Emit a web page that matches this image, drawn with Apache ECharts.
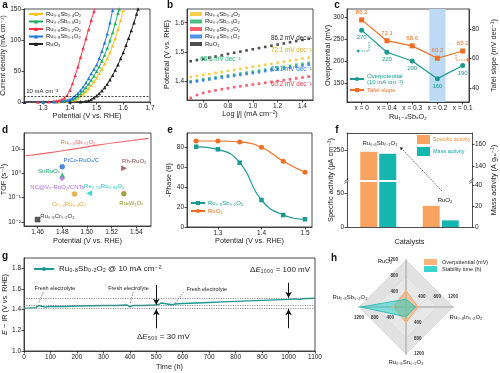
<!DOCTYPE html>
<html><head><meta charset="utf-8">
<script src="https://cdn.jsdelivr.net/npm/echarts@6/dist/echarts.min.js"></script>
<style>html,body{margin:0;padding:0;background:#fff}#c{width:500px;height:373px}</style>
</head><body><div id="c"></div><script>
const FONT = 'Liberation Sans, Arial, Helvetica, DejaVu Sans, sans-serif';
// ---------- panel a : LSV ----------
const lsvNames = ['Ru₀.₆Sb₀.₄O₂','Ru₀.₇Sb₀.₃O₂','Ru₀.₈Sb₀.₂O₂','Ru₀.₉Sb₀.₁O₂','RuO₂'];
const lsvColors = ['#f7c21e','#1faf63','#f7344a','#2378e0','#222222'];
const lsvSb04 = [[1.23,0],[1.30,0.1],[1.36,0.4],[1.39,1.5],[1.41,2.8],[1.42,4],[1.43,6.5],[1.44,10],[1.45,13.3],[1.46,17],[1.47,21.8],[1.48,27],[1.49,33],[1.50,39],[1.51,46],[1.52,53],[1.53,61.5],[1.54,70],[1.55,80],[1.56,91],[1.57,103],[1.58,117],[1.59,132],[1.60,148]];
const lsvSb03 = [[1.23,0],[1.30,0.1],[1.35,0.4],[1.38,1.5],[1.40,2.8],[1.41,4],[1.42,6.5],[1.43,10],[1.44,13.8],[1.45,18],[1.46,23.3],[1.47,29],[1.48,35.3],[1.49,42],[1.50,49.5],[1.51,57],[1.52,66],[1.53,76],[1.54,87],[1.55,99],[1.56,112],[1.57,127],[1.58,143],[1.585,150]];
const lsvSb02 = [[1.23,0],[1.28,0.2],[1.32,0.5],[1.34,1.2],[1.35,1.8],[1.36,2.5],[1.37,4],[1.38,6.5],[1.39,11],[1.40,19],[1.41,30],[1.42,43],[1.43,57],[1.44,72],[1.45,87],[1.46,102],[1.47,117],[1.48,132],[1.49,146],[1.495,153]];
const lsvSb01 = [[1.23,0],[1.30,0.1],[1.34,0.4],[1.37,1.5],[1.39,2.8],[1.40,4],[1.41,6.5],[1.42,10],[1.43,14.3],[1.44,19],[1.45,24.7],[1.46,31],[1.47,38],[1.48,46],[1.49,53],[1.50,60],[1.51,70.5],[1.52,82],[1.53,95.5],[1.54,110],[1.55,128],[1.56,148]];
const lsvRuO2 = [[1.23,0],[1.40,0.1],[1.44,0.5],[1.46,1.2],[1.47,2],[1.48,4],[1.49,6.7],[1.50,10],[1.51,13.8],[1.52,18],[1.53,23.3],[1.54,29],[1.55,36],[1.56,43],[1.57,51.5],[1.58,60],[1.59,70],[1.60,80],[1.61,91.5],[1.62,103],[1.63,115.5],[1.64,128],[1.65,142],[1.655,150]];
const lsvData = [lsvSb04, lsvSb03, lsvSb02, lsvSb01, lsvRuO2];
const aXTicks = [1.3,1.4,1.5,1.6,1.7];
const aYTicks = [0,50,100,150];
// ---------- panel b : Tafel ----------
const tafLogJ = [0.50,0.55,0.60,0.65,0.70,0.75,0.80,0.85,0.90,0.95,1.00,1.05,1.10,1.15,1.20,1.25,1.30,1.35,1.40,1.45,1.50];
const tafSb04 = [1.414,1.417,1.421,1.424,1.428,1.431,1.435,1.438,1.442,1.445,1.449,1.452,1.456,1.459,1.463,1.466,1.470,1.473,1.477,1.480,1.484];
const tafSb03 = [1.399,1.402,1.406,1.409,1.412,1.416,1.419,1.422,1.426,1.429,1.432,1.436,1.439,1.442,1.446,1.449,1.452,1.456,1.459,1.462,1.466];
const tafSb02 = [1.342,1.352,1.359,1.364,1.368,1.372,1.375,1.379,1.382,1.385,1.388,1.391,1.394,1.397,1.400,1.403,1.406,1.409,1.412,1.415,1.418];
const tafSb01 = [1.396,1.399,1.402,1.405,1.409,1.412,1.415,1.418,1.421,1.424,1.427,1.430,1.434,1.437,1.440,1.443,1.446,1.449,1.453,1.456,1.459];
const tafRuO2 = [1.468,1.472,1.476,1.480,1.484,1.488,1.493,1.497,1.501,1.505,1.509,1.513,1.517,1.521,1.525,1.529,1.533,1.537,1.541,1.545,1.549];
const tafData = [tafSb04, tafSb03, tafSb02, tafSb01, tafRuO2];
const bXTicks = [0.6,0.8,1.0,1.2,1.4];
const bYTicks = [1.4,1.5,1.6];
// ---------- panel c ----------
const cCats = ['x = 0','x = 0.4','x = 0.3','x = 0.2','x = 0.1'];
const cOverpot = [270,220,200,160,190];
const cTafel = [86.2,72.1,68.6,60.2,65.1];
const cLeftTicks = [150,200,250,300];
const cRightTicks = [40,60,80];
// ---------- panel d ----------
const tofLineE = [1.45,1.47,1.49,1.51,1.53,1.55];
const tofLineV = [5.2,7.0,10.0,14.5,20,27];
const tofNames = ['PtCo-RuOₓ/C','SnRuOₓ','NC@Vₙ-RuO₂/CNTs','Rh-RuO₂','Re₀.₀₆Ru₀.₉₄O₂','Cr₀.₆Ru₀.₄O₂','RuₓW₁Oₓ','Ru₀.₈Cr₀.₂O₂'];
const tofE = [1.48,1.48,1.48,1.53,1.502,1.49,1.53,1.46];
const tofV = [1.85,0.82,0.6,1.6,0.15,0.14,0.145,0.0125];
const tofColors = ['#1f6fdc','#1ba56c','#b06ee0','#8a4747','#1cc6c6','#e3a226','#8f8a1e','#333333'];
const tofSymbols = ['circle','triangle','diamond','triangle','triangle','circle','circle','rect'];
const tofRot = [0,0,0,-90,90,0,0,0];
const dXTicks = [1.46,1.48,1.50,1.52,1.54];
const dYTicks = [0.01,0.1,1,10];
const dYLabels = ['10⁻²','10⁻¹','10⁰','10¹'];
// ---------- panel e ----------
const phE = [1.25,1.30,1.35,1.40,1.45,1.50];
const phSb = [80.3,77.7,64.3,27,12,7.7];
const phRuO2 = [86,86,85,79.7,65.7,54.7];
const eXTicks = [1.3,1.4,1.5];
const eYTicks = [0,20,40,60,80];
// ---------- panel f ----------
const fCats = ['Ru₀.₈Sb₀.₂O₂','RuO₂'];
const fSpecific = [248,31];
const fMass = [151,6.3];
// ---------- panel g ----------
const stabT = [0,20,45,52,55,60,80,95,100,105,150,200,250,300,350,390,395,400,410,450,490,495,500,505,510,518,525,560,565,570,600,650,700,750,800,850,900,950,1000,1030,1040,1050,1100];
const stabE = [1.415,1.417,1.42,1.425,1.44,1.425,1.425,1.43,1.417,1.43,1.43,1.435,1.438,1.44,1.44,1.445,1.45,1.427,1.44,1.441,1.445,1.46,1.447,1.46,1.45,1.465,1.45,1.447,1.437,1.455,1.46,1.465,1.47,1.475,1.48,1.485,1.49,1.495,1.50,1.505,1.497,1.505,1.51];
const gXTicks = [0,100,200,300,400,500,600,700,800,900,1000,1100];
const gYTicks = [1.0,1.2,1.4,1.6,1.8];
// ---------- panel h ----------
const radarNames = ['RuO₂','Ru₀.₈Sb₀.₂O₂','Ru₀.₈Sn₀.₂O₂','Ru₀.₈In₀.₂O₂'];
const radarOverpot = [420,320,390,310];
const radarStab = [200,1150,250,240];

const TEAL = '#1b9a93', ORANGE = '#f26d22';
const DISP = {};
lsvNames.forEach((n,i)=>{DISP['a'+i]=n; DISP['b'+i]=n;});
DISP['c0']='Overpotential\n(10 mA cm⁻²)'; DISP['c1']='Tafel slope';
DISP['e0']='Ru₀.₈Sb₀.₂O₂'; DISP['e1']='RuO₂';
DISP['g0']='Ru₀.₈Sb₀.₂O₂ @ 10 mA cm⁻²';
const fmtLeg = n => DISP[n] !== undefined ? DISP[n] : n;
const RICH = {i:{fontStyle:'italic', fontSize:7.3, fontFamily:FONT, color:'#222'}};

function axis(gi, min, max, ticks, name, gap, fmt, extra){
  const a = {type:'value', gridIndex:gi, min:min, max:max,
    axisLine:{show:true,onZero:false,lineStyle:{color:'#222',width:0.8}},
    axisTick:{show:true,length:2.5,customValues:ticks,lineStyle:{color:'#222',width:0.8}},
    axisLabel:{show:true,customValues:ticks,fontSize:6.5,color:'#222',fontFamily:FONT,margin:3,formatter:fmt,hideOverlap:false},
    splitLine:{show:false},
    name:name, nameLocation:'middle', nameGap:gap, nameMoveOverlap:false,
    nameTextStyle:{fontSize:7.3,color:'#222',fontFamily:FONT,rich:RICH}};
  return Object.assign(a, extra||{});
}
const f1 = v => v.toFixed(1), f2 = v => v.toFixed(2), f0 = v => String(Math.round(v));
const gridBox = (l,t,w,h,show) => ({left:l,top:t,width:w,height:h,show:show!==false,borderColor:'#222',borderWidth:0.8,backgroundColor:'transparent',outerBoundsMode:'none',containLabel:false});

const grid = [
  gridBox(24,9,126,93),      //0 a
  gridBox(187,9,126,91),     //1 b
  gridBox(347,9,122,93),     //2 c
  gridBox(24,133,127,93),    //3 d
  gridBox(187,133,125,94),   //4 e
  gridBox(347,182,125,45,false), //5 f low
  gridBox(347,133,125,47,false), //6 f high
  gridBox(24,258,291,93)     //7 g
];
const xAxis = [
  axis(0,1.228,1.70,aXTicks,'Potential (V vs. RHE)',10.5,f1),
  axis(1,0.47,1.485,bXTicks,'Log |{i|j}| (mA cm⁻²)',10,f1),
  axis(2,-0.58,4.25,[0,1,2,3,4],'Ru₁₋ₓSbₓO₂',11,v=>cCats[Math.round(v)]),
  axis(3,1.449,1.552,dXTicks,'Potential (V vs. RHE)',11,f2),
  axis(4,1.229,1.516,eXTicks,'Potential (V vs. RHE)',10.5,f1),
  {type:'category',gridIndex:5,data:fCats,axisLine:{show:true,lineStyle:{color:'#222',width:0.8}},axisTick:{show:false},axisLabel:{show:false},name:'Catalysts',nameLocation:'middle',nameGap:11,nameMoveOverlap:false,nameTextStyle:{fontSize:7.3,color:'#222',fontFamily:FONT}},
  {type:'category',gridIndex:6,data:fCats,position:'top',axisLine:{show:true,lineStyle:{color:'#222',width:0.8}},axisTick:{show:false},axisLabel:{show:false}},
  axis(7,0,1100,gXTicks,'Time (h)',12,f0,{interval:100})
];
const dFmt = v => { const k = dYTicks.findIndex(t => Math.abs(Math.log10(t)-Math.log10(v))<1e-6); return k>=0?dYLabels[k]:''; };
const yAxis = [
  axis(0,0,150,aYTicks,'Current density (mA cm⁻²)',17,f0,{nameTextStyle:{fontSize:6.9,color:'#222',fontFamily:FONT}}),
  axis(1,1.335,1.647,bYTicks,'Potential (V vs. RHE)',17,f1),
  axis(2,107,318,cLeftTicks,'Overpotential (mV)',16,f0),
  axis(2,30.5,93.6,cRightTicks,'Tafel slope (mV dec⁻¹)',21,f0,{position:'right'}),
  axis(3,0.0068,44.7,dYTicks,'TOF (s⁻¹)',17,dFmt,{type:'log',logBase:10}),
  axis(4,0,94,eYTicks,'-Phase (θ)',15,f0),
  axis(5,0,66,[0,50],'',0,f0),
  axis(5,0,42.8,[0,20,40],'',0,f0,{position:'right'}),
  axis(6,200,280,[250],'',0,f0),
  axis(6,127,170,[140,160],'',0,f0,{position:'right'}),
  axis(7,1.0,1.9,gYTicks,'{i|E} − IR (V vs. RHE)',16,f1)
];

const series = [];
lsvData.forEach((d,i)=>series.push({type:'line',name:'a'+i,xAxisIndex:0,yAxisIndex:0,data:d,symbol:'triangle',symbolSize:3.5,showSymbol:true,smooth:0.3,
  lineStyle:{width:1,color:lsvColors[i]},itemStyle:{color:lsvColors[i]},clip:true,silent:true,
  markLine: i===4 ? {silent:true,symbol:['none','none'],label:{show:false},lineStyle:{type:[2,1.5],color:'#222',width:0.8},data:[{yAxis:10}]} : undefined}));
tafData.forEach((d,i)=>series.push({type:'scatter',name:'b'+i,xAxisIndex:1,yAxisIndex:1,data:tafLogJ.map((x,k)=>[x,d[k]]),symbol:'rect',symbolSize:2.6,itemStyle:{color:lsvColors[i]},silent:true,clip:true}));
series.push({type:'line',name:'c0',xAxisIndex:2,yAxisIndex:2,data:cOverpot.map((v,i)=>[i,v]),symbol:'circle',symbolSize:5,
  lineStyle:{color:TEAL,width:1.2},itemStyle:{color:TEAL},z:3,
  label:{show:true,position:'bottom',distance:2,fontSize:6,color:TEAL,fontFamily:FONT,formatter:p=>p.value[1]},
  markArea:{silent:true,itemStyle:{color:'#bcd9f6'},data:[[{xAxis:2.68},{xAxis:3.32}]]}});
series.push({type:'line',name:'c1',xAxisIndex:2,yAxisIndex:3,data:cTafel.map((v,i)=>[i,v]),symbol:'rect',symbolSize:5,
  lineStyle:{color:ORANGE,width:1.2},itemStyle:{color:ORANGE},z:3,
  label:{show:true,position:'top',distance:2,fontSize:6,color:ORANGE,fontFamily:FONT,formatter:p=>p.value[1].toFixed(1)}});
series.push({type:'line',name:'dline',xAxisIndex:3,yAxisIndex:4,data:tofLineE.map((x,k)=>[x,tofLineV[k]]),symbol:'none',smooth:true,lineStyle:{color:'#f4676b',width:1.2},silent:true});
tofNames.forEach((n,i)=>series.push({type:'scatter',name:'d'+i,xAxisIndex:3,yAxisIndex:4,data:[[tofE[i],tofV[i]]],symbol:tofSymbols[i],symbolRotate:tofRot[i],symbolSize:5,
  itemStyle:{color:tofColors[i],borderColor:tofColors[i],borderWidth:0.5},silent:true}));
series.push({type:'line',name:'e0',xAxisIndex:4,yAxisIndex:5,data:phE.map((x,k)=>[x,phSb[k]]),smooth:0.5,symbol:'rect',symbolSize:4.5,lineStyle:{color:TEAL,width:1.2},itemStyle:{color:TEAL}});
series.push({type:'line',name:'e1',xAxisIndex:4,yAxisIndex:5,data:phE.map((x,k)=>[x,phRuO2[k]]),smooth:0.5,symbol:'circle',symbolSize:5,lineStyle:{color:ORANGE,width:1.2},itemStyle:{color:ORANGE}});
const FOR = '#f9a360', FTE = '#14b6ad';
[[5,6,7],[6,8,9]].forEach(([xi,yl,yr])=>{
  series.push({type:'bar',name:'Specific activity',xAxisIndex:xi,yAxisIndex:yl,data:fSpecific,barWidth:17,barGap:'12%',itemStyle:{color:FOR},clip:true,silent:true});
  series.push({type:'bar',name:'Mass activity',xAxisIndex:xi,yAxisIndex:yr,data:fMass,barWidth:17,barGap:'12%',itemStyle:{color:FTE},clip:true,silent:true});
});
const dot = {type:[1.2,1.2],color:'#777',width:0.8};
const arr = {type:'solid',color:'#111',width:1};
const lead = {type:[1.5,1],color:'#333',width:0.6};
series.push({type:'line',name:'g0',xAxisIndex:7,yAxisIndex:10,data:stabT.map((t,k)=>[t,stabE[k]]),symbol:'none',lineStyle:{color:TEAL,width:1.4},itemStyle:{color:TEAL},
  markLine:{silent:true,symbol:['none','none'],symbolSize:[5,6],label:{show:false},data:[
    {yAxis:1.51,lineStyle:dot},{yAxis:1.44,lineStyle:dot},{yAxis:1.41,lineStyle:dot},
    [{coord:[500,1.64],lineStyle:arr},{coord:[500,1.447],symbol:'arrow',symbolSize:[5,6]}],
    [{coord:[500,1.22],lineStyle:arr},{coord:[500,1.405],symbol:'arrow',symbolSize:[5,6]}],
    [{coord:[1000,1.66],lineStyle:arr},{coord:[1000,1.515],symbol:'arrow',symbolSize:[5,6]}],
    [{coord:[1000,1.22],lineStyle:arr},{coord:[1000,1.405],symbol:'arrow',symbolSize:[5,6]}],
    [{coord:[73,1.57],lineStyle:lead},{coord:[54,1.46]}],
    [{coord:[413,1.57],lineStyle:lead},{coord:[401,1.46]}],
    [{coord:[603,1.57],lineStyle:lead},{coord:[571,1.46]}]
  ]}});
series.push({type:'radar',radarIndex:0,symbol:'circle',symbolSize:2,silent:true,data:[
  {name:'Overpotential (mV)',value:radarOverpot,lineStyle:{color:'#f5a05a',width:0.8},areaStyle:{color:'rgba(250,166,96,0.75)'},itemStyle:{color:'#f9b47a'}},
  {name:'Stability time (h)',value:radarStab,lineStyle:{color:'#12b3aa',width:0.8},areaStyle:{color:'rgba(28,206,196,0.72)'},itemStyle:{color:'#3ad6cc'}}
]});

const legBase = {orient:'vertical',padding:0,itemGap:1.5,selectedMode:false,formatter:fmtLeg,
  textStyle:{fontSize:6,color:'#222',fontFamily:FONT,padding:[0,0,0,-2]}};
const legend = [
  Object.assign({},legBase,{left:28,top:11,itemWidth:14,itemHeight:5,data:['a0','a1','a2','a3','a4']}),
  Object.assign({},legBase,{left:190,top:11,itemWidth:12,itemHeight:4,data:['b0','b1','b2','b3','b4']}),
  Object.assign({},legBase,{left:349,top:73,itemWidth:14,itemHeight:5,itemGap:2,data:[{name:'c0',textStyle:{color:TEAL}},{name:'c1',textStyle:{color:ORANGE}}]}),
  Object.assign({},legBase,{left:190,top:200,itemWidth:14,itemHeight:5,itemGap:2,data:[{name:'e0',textStyle:{color:TEAL}},{name:'e1',textStyle:{color:ORANGE}}]}),
  Object.assign({},legBase,{left:417,top:135,itemWidth:13,itemHeight:9,itemGap:3,icon:'rect',textStyle:{fontSize:5.5,fontFamily:FONT,padding:[0,0,0,-2]},data:[{name:'Specific activity',textStyle:{color:'#f58a3a'}},{name:'Mass activity',textStyle:{color:'#10a9a1'}}]}),
  Object.assign({},legBase,{left:33,top:265,itemWidth:20,itemHeight:5,textStyle:{fontSize:8,color:'#222',fontFamily:FONT},data:['g0']}),
  Object.assign({},legBase,{left:424,top:259,itemWidth:13,itemHeight:6,itemGap:1,icon:'rect',textStyle:{fontSize:5.5,color:'#222',fontFamily:FONT},data:['Overpotential (mV)','Stability time (h)']})
];

const radar = {center:[406,307],radius:47,startAngle:90,shape:'polygon',splitNumber:3,
  indicator:radarNames.map(n=>({name:n,min:0,max:1200})),
  axisName:{show:false},
  axisLine:{lineStyle:{color:'#c2c2c2',width:2}},
  splitLine:{lineStyle:{color:'#cfcfcf',width:0.6}},
  splitArea:{show:true,areaStyle:{color:['#e4e4e4','#e8e8e8','#e2e2e2']}},
  axisTick:{show:false},
  axisLabel:{show:true,fontSize:4.5,color:'#333',fontWeight:'bold',fontFamily:FONT,showMinLabel:false,formatter:v=>String(v)}};

const chart = echarts.init(document.getElementById('c'),null,{renderer:'canvas',width:500,height:373});
chart.setOption({animation:false,backgroundColor:'#fff',textStyle:{fontFamily:FONT},grid,xAxis,yAxis,legend,radar,series,tooltip:{show:false}});

// ---------- annotations ----------
const G = [];
const P = (xi,yi,pt) => chart.convertToPixel({xAxisIndex:xi,yAxisIndex:yi},pt);
function T(p,text,st,rot){ return {type:'text',x:p[0],y:p[1],rotation:rot||0,silent:true,z:50,
  style:Object.assign({text:text,fontSize:6,fontFamily:FONT,fill:'#222',align:'center',verticalAlign:'middle',rich:{i:{fontStyle:'italic',fontFamily:FONT,fontSize:(st&&st.fontSize)||6,fill:(st&&st.fill)||'#222'},n:{fontFamily:FONT,fontSize:(st&&st.fontSize)||6,fill:(st&&st.fill)||'#222'}}},st||{})}; }
function L(pts,color,dash,w){ return {type:'polyline',silent:true,z:50,shape:{points:pts},style:{stroke:color,lineWidth:w||0.8,lineDash:dash||null,fill:null}}; }
function head(p,ang,color,s){ s=s||4; const a1=ang+2.6,a2=ang-2.6;
  return {type:'polygon',silent:true,z:50,shape:{points:[p,[p[0]+s*Math.cos(a1),p[1]+s*Math.sin(a1)],[p[0]+s*Math.cos(a2),p[1]+s*Math.sin(a2)]]},style:{fill:color}}; }
// panel letters
[['a',5,5],['b',170,5],['c',337,5],['d',5,130],['e',170,130],['f',337,130],['g',5,256],['h',334,258]].forEach(([t,x,y])=>
  G.push({type:'text',x:x,y:y,silent:true,style:{text:t,fontSize:10,fontWeight:'bold',fontFamily:FONT,fill:'#111',align:'center',verticalAlign:'middle'}}));
// a
G.push(T(P(0,0,[1.236,17]),'10 mA cm⁻²',{align:'left',fontSize:6}));
// b
const bLab = [[1.475,1.545,'86.2 mV dec⁻¹','#222','right'],[1.475,1.505,'72.1 mV dec⁻¹','#e0ad10','right'],[0.74,1.474,'68.6 mV dec⁻¹','#1faf63','center'],[1.475,1.440,'65.1 mV dec⁻¹','#2378e0','right'],[1.475,1.390,'60.2 mV dec⁻¹','#f7344a','right']];
bLab.forEach(([x,y,t,c,al])=>G.push(T(P(1,1,[x,y]),t,{fill:c,align:al,fontSize:6.3})));
// c arrows
G.push(L([[369,42],[369,51],[359,51]],TEAL,[1.5,1]),head([356,51],Math.PI,TEAL,3.5));
G.push(L([[456,55],[456,60],[467,60]],ORANGE,[1.5,1]),head([470,60],0,ORANGE,3.5));
// d labels
const dLab = [[1.4929,18.5,'Ru₀.₈Sb₀.₂O₂','#f0686a'],[1.4955,3.3,'PtCo-RuOₓ/C','#1f6fdc'],[1.5384,2.95,'Rh-RuO₂','#8a4747'],[1.4692,1.14,'SnRuOₓ','#1ba56c'],
  [1.4761,0.275,'NC@Vₙ-RuO₂/CNTs','#b06ee0'],[1.5141,0.294,'Re₀.₀₆Ru₀.₉₄O₂','#1cc6c6'],[1.4855,0.0535,'Cr₀.₆Ru₀.₄O₂','#e3a226'],[1.5359,0.059,'RuₓW₁Oₓ','#8f8a1e'],[1.4761,0.0177,'Ru₀.₈Cr₀.₂O₂','#333333']];
dLab.forEach(([x,y,t,c])=>G.push(T(P(3,4,[x,y]),t,{fill:c,fontSize:6})));
// f
G.push(T([380,143],'Ru₀.₈Sb₀.₂O₂',{fontSize:6}),T([445,200],'RuO₂',{fontSize:6}));
G.push(L([[442,191],[403,150]],'#333',[1.5,1],0.7),head([400,147],Math.atan2(147-191,400-442),'#333',3.5));
G.push(T([331,180],'Specific activity (μA cm⁻²)',{fontSize:7.3},Math.PI/2));
G.push(T([494,180],'Mass activity (A gᵣᵤ⁻¹)',{fontSize:7.3},Math.PI/2));
[[347,181],[472,181]].forEach(([x,y])=>{G.push(L([[x-2.5,y+0.5],[x+1.5,y-2.5]],'#222',null,0.7),L([[x-2.5,y+2.5],[x+1.5,y-0.5]],'#222',null,0.7));});
// g
G.push(T(P(7,10,[117,1.604]),'Fresh electrolyte',{fontSize:5.5}),T(P(7,10,[395,1.604]),'Fresh electrolyte',{fontSize:5.5}),T(P(7,10,[691,1.598]),'Fresh electrolyte',{fontSize:5.5}));
G.push(T(P(7,10,[968,1.79]),'{n|Δ}{i|E}{n|₁₀₀₀ = 100 mV}',{fontSize:8}));
G.push(T(P(7,10,[527,1.138]),'{n|Δ}{i|E}{n|₅₀₀ = 30 mV}',{fontSize:8}));
// h
G.push(T([385,261],'RuO₂',{fontSize:6}),T([350,297],'Ru₀.₈Sb₀.₂O₂',{fontSize:6}),T([466,317],'Ru₀.₈In₀.₂O₂',{fontSize:6}),T([406,362],'Ru₀.₈Sn₀.₂O₂',{fontSize:6}));
chart.setOption({graphic:G});
</script></body></html>
